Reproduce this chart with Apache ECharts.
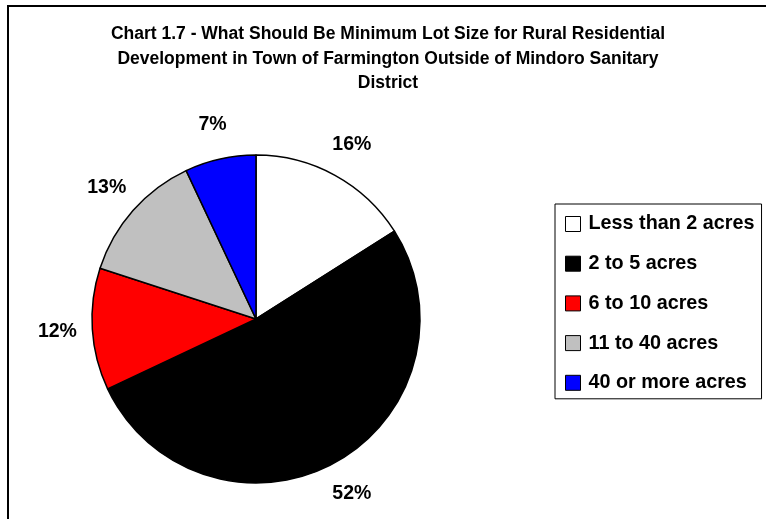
<!DOCTYPE html>
<html>
<head>
<meta charset="utf-8">
<script src="https://cdn.jsdelivr.net/npm/echarts@6/dist/echarts.min.js"></script>
<style>
html,body{margin:0;padding:0;background:#fff;}
#chart{width:766px;height:519px;}
</style>
</head>
<body>
<div id="chart"></div>
<script>
const titleText = "Chart 1.7 - What Should Be Minimum Lot Size for Rural Residential\nDevelopment in Town of Farmington Outside of Mindoro Sanitary\nDistrict";
const categories = ["Less than 2 acres", "2 to 5 acres", "6 to 10 acres", "11 to 40 acres", "40 or more acres"];
const values = [16, 52, 12, 13, 7];
const colors = ["#ffffff", "#000000", "#ff0000", "#c0c0c0", "#0000ff"];

const FONT = "'Liberation Sans', Arial, sans-serif";
const CX = 256, CY = 319, R = 164, LABEL_R = 199;
const total = values.reduce((a, b) => a + b, 0);

const chart = echarts.init(document.getElementById('chart'), null, {renderer: 'canvas'});
chart.setOption({
  animation: false,
  backgroundColor: '#ffffff',
  graphic: [{
    type: 'rect',
    shape: {x: 8, y: 6, width: 800, height: 600},
    style: {fill: 'none', stroke: '#000', lineWidth: 2},
    silent: true
  }],
  title: {
    text: titleText,
    left: 383,
    top: 17,
    padding: 5,
    textAlign: 'center',
    textStyle: {fontFamily: FONT, fontWeight: 'bold', fontSize: 17.5, lineHeight: 24.5, color: '#000'}
  },
  legend: {
    orient: 'vertical',
    left: 555,
    top: 204,
    padding: [10, 7, 6, 10],
    borderColor: '#000',
    borderWidth: 1,
    itemWidth: 15,
    itemHeight: 15,
    itemGap: 19.7,
    icon: 'rect',
    selectedMode: false,
    data: categories,
    itemStyle: {borderColor: '#000', borderWidth: 1},
    textStyle: {fontFamily: FONT, fontWeight: 'bold', fontSize: 19.8, lineHeight: 20, color: '#000', padding: [0, 0, 0, 3]}
  },
  series: [{
    type: 'pie',
    center: [CX, CY],
    radius: R,
    startAngle: 90,
    clockwise: true,
    data: categories.map((c, i) => ({name: c, value: values[i], itemStyle: {color: colors[i]}})),
    itemStyle: {borderColor: '#000', borderWidth: 1.5},
    label: {
      show: true,
      position: 'outside',
      overflow: 'none',
      formatter: p => p.value + '%',
      fontFamily: FONT, fontWeight: 'bold', fontSize: 19.5, color: '#000'
    },
    labelLine: {show: false},
    labelLayout: function (params) {
      const i = params.dataIndex;
      let cum = 0;
      for (let k = 0; k < i; k++) cum += values[k];
      const mid = (cum + values[i] / 2) / total * Math.PI * 2;
      return {
        x: CX + LABEL_R * Math.sin(mid),
        y: CY - LABEL_R * Math.cos(mid),
        align: 'center',
        verticalAlign: 'middle'
      };
    },
    emphasis: {disabled: true}
  }]
});
</script>
</body>
</html>
